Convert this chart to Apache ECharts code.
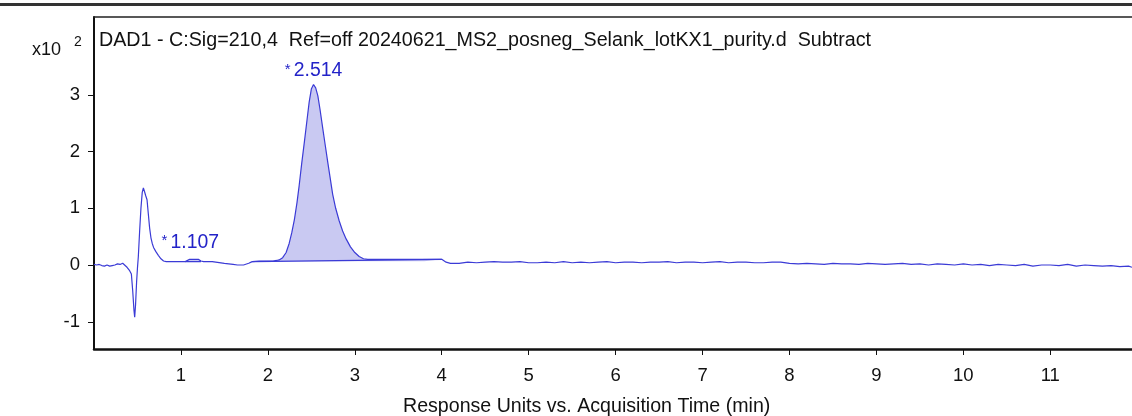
<!DOCTYPE html>
<html>
<head>
<meta charset="utf-8">
<script src="https://cdn.jsdelivr.net/npm/echarts@6/dist/echarts.min.js"></script>
<style>
  * { margin: 0; padding: 0; }
  body { background: #fff; }
</style>
</head>
<body>
<!-- chromatogram container -->
<div id="main" style="width:1132px;height:416px;"></div>
<script>
// signal trace: [time (min), response x10^2]
var trace = [
  [0.00, 0.01], [0.03, 0.00], [0.06, 0.01], [0.09, -0.01], [0.12, -0.02], [0.15, 0.00],
  [0.18, -0.02], [0.21, -0.01], [0.24, 0.00], [0.27, 0.02], [0.30, 0.01], [0.33, 0.03],
  [0.35, 0.01], [0.38, -0.04], [0.41, -0.10], [0.43, -0.16], [0.445, -0.45], [0.46, -0.80],
  [0.468, -0.92], [0.478, -0.70], [0.49, -0.30], [0.50, -0.05], [0.51, 0.15], [0.525, 0.60],
  [0.54, 1.00], [0.555, 1.28], [0.568, 1.36], [0.58, 1.30], [0.595, 1.22], [0.61, 1.15],
  [0.625, 0.90], [0.64, 0.65], [0.655, 0.48], [0.67, 0.38], [0.685, 0.31], [0.71, 0.24],
  [0.74, 0.17], [0.77, 0.11], [0.80, 0.07], [0.83, 0.06], [0.90, 0.06], [1.00, 0.06],
  [1.05, 0.06], [1.07, 0.09], [1.10, 0.10], [1.20, 0.10], [1.23, 0.07], [1.26, 0.06],
  [1.36, 0.06], [1.38, 0.03], [1.50, 0.03], [1.60, 0.01], [1.65, 0.00], [1.72, 0.00],
  [1.78, 0.03], [1.82, 0.06], [1.90, 0.07], [2.00, 0.07], [2.06, 0.07], [2.10, 0.08],
  [2.13, 0.09], [2.17, 0.13], [2.21, 0.22], [2.245, 0.38], [2.275, 0.57], [2.305, 0.80],
  [2.335, 1.10], [2.36, 1.40], [2.39, 1.80], [2.42, 2.17], [2.45, 2.55], [2.475, 2.87],
  [2.50, 3.10], [2.525, 3.18], [2.55, 3.12], [2.575, 2.98], [2.60, 2.74], [2.63, 2.42],
  [2.66, 2.11], [2.69, 1.80], [2.72, 1.50], [2.745, 1.25], [2.78, 1.00], [2.82, 0.78],
  [2.86, 0.60], [2.90, 0.46], [2.95, 0.32], [3.00, 0.22], [3.05, 0.15], [3.10, 0.11],
  [3.15, 0.10], [3.25, 0.10], [3.40, 0.10], [3.60, 0.10], [3.80, 0.10], [4.00, 0.10],
  [4.05, 0.05], [4.10, 0.03], [4.20, 0.03], [4.30, 0.05], [4.40, 0.04], [4.50, 0.05],
  [4.60, 0.06], [4.70, 0.05], [4.80, 0.05], [4.90, 0.06], [5.00, 0.04], [5.10, 0.04],
  [5.20, 0.05], [5.30, 0.04], [5.40, 0.06], [5.50, 0.04], [5.60, 0.05], [5.70, 0.04],
  [5.80, 0.05], [5.90, 0.06], [6.00, 0.04], [6.10, 0.05], [6.20, 0.05], [6.30, 0.04],
  [6.40, 0.05], [6.50, 0.05], [6.60, 0.06], [6.70, 0.04], [6.80, 0.05], [6.90, 0.05],
  [7.00, 0.04], [7.10, 0.05], [7.20, 0.06], [7.30, 0.04], [7.40, 0.05], [7.50, 0.05],
  [7.60, 0.04], [7.70, 0.04], [7.80, 0.05], [7.90, 0.05], [8.00, 0.03], [8.10, 0.02],
  [8.20, 0.03], [8.30, 0.02], [8.40, 0.01], [8.50, 0.03], [8.60, 0.02], [8.70, 0.02],
  [8.80, 0.01], [8.90, 0.03], [9.00, 0.02], [9.10, 0.01], [9.20, 0.02], [9.30, 0.03],
  [9.40, 0.01], [9.50, 0.02], [9.60, 0.00], [9.70, 0.02], [9.80, 0.01], [9.90, 0.00],
  [10.00, 0.02], [10.10, 0.00], [10.20, 0.01], [10.30, -0.01], [10.40, 0.01], [10.50, 0.00],
  [10.60, -0.01], [10.70, 0.01], [10.80, -0.02], [10.90, 0.00], [11.00, 0.00], [11.10, -0.01],
  [11.20, 0.01], [11.30, -0.02], [11.40, 0.00], [11.50, -0.01], [11.60, -0.02], [11.70, -0.01],
  [11.80, -0.03], [11.90, -0.02], [11.94, -0.04]
];

// integrated peaks: [start, end] times, baseline level, label, apex
var peakRanges = [[1.05, 1.23], [1.82, 4.00]];
var peakBase = [0.06, 0.065];
var peakLabels = ["1.107", "2.514"];
var peakApex = [[1.107, 0.10], [2.525, 3.18]];
// integration baselines
var baseLines = [
  [[1.05, 0.06], [1.23, 0.06]],
  [[1.82, 0.06], [4.00, 0.10]]
];

var xTicks = [1, 2, 3, 4, 5, 6, 7, 8, 9, 10, 11];
var yTicks = [-1, 0, 1, 2, 3];

var FONT = "Liberation Sans, Arial, sans-serif";
var LINE = "#3b3bd6";
var FILL = "#c9c9f2";
var LABEL = "#2323c8";

var chart = echarts.init(document.getElementById("main"));

var series = [];
// filled peak areas
peakRanges.forEach(function (r, i) {
  series.push({
    type: "line",
    data: trace.filter(function (p) { return p[0] >= r[0] && p[0] <= r[1]; }),
    symbol: "none",
    silent: true,
    z: 1,
    lineStyle: { width: 0 },
    areaStyle: { color: FILL, opacity: 1, origin: peakBase[i] }
  });
  series.push({
    type: "line",
    data: baseLines[i],
    symbol: "none",
    silent: true,
    z: 2,
    lineStyle: { width: 1.2, color: LINE }
  });
});
// main trace
series.push({
  type: "line",
  data: trace,
  symbol: "none",
  z: 3,
  lineStyle: { width: 1.2, color: LINE },
  markPoint: {
    symbol: "circle",
    symbolSize: 0,
    data: peakApex.map(function (p, i) {
      return {
        coord: p,
        label: {
          show: true,
          position: "top",
          distance: i == 0 ? 7 : 4,
          formatter: "{s|*} {n|" + peakLabels[i] + "}",
          rich: {
            s: { fontSize: 15, color: LABEL, fontFamily: FONT, padding: [0, 0, 3, 0] },
            n: { fontSize: 19.4, color: LABEL, fontFamily: FONT }
          }
        }
      };
    })
  }
});

chart.setOption({
  animation: false,
  title: {
    text: "DAD1 - C:Sig=210,4  Ref=off 20240621_MS2_posneg_Selank_lotKX1_purity.d  Subtract",
    left: 99,
    top: 31,
    padding: 0,
    textStyle: { fontFamily: FONT, fontSize: 19.7, fontWeight: "normal", color: "#111" }
  },
  grid: { left: 94, right: 0, top: 17, bottom: 67 },
  xAxis: [{
    type: "value",
    min: 0,
    max: 11.94,
    axisLine: { onZero: false, lineStyle: { color: "#111", width: 2.5 } },
    axisTick: { show: true, length: 6, lineStyle: { color: "#111" }, customValues: xTicks },
    axisLabel: { customValues: xTicks, margin: 17, fontFamily: FONT, fontSize: 18.5, color: "#111" },
    splitLine: { show: false }
  }, {
    type: "value",
    position: "top",
    min: 0,
    max: 11.94,
    axisLine: { show: true, onZero: false, lineStyle: { color: "#222", width: 1.5 } },
    axisTick: { show: false },
    axisLabel: { show: false },
    splitLine: { show: false }
  }],
  yAxis: {
    type: "value",
    min: -1.48,
    max: 4.37,
    axisLine: { show: true, onZero: false, lineStyle: { color: "#111", width: 2 } },
    axisTick: { show: true, length: 6, lineStyle: { color: "#111" }, customValues: yTicks },
    axisLabel: { customValues: yTicks, margin: 14, fontFamily: FONT, fontSize: 18.5, color: "#111" },
    splitLine: { show: false }
  },
  graphic: [
    { type: "rect", left: 0, top: 3, shape: { width: 1132, height: 3 }, style: { fill: "#333" } },
    { type: "text", left: 32, top: 41, style: { text: "x10", font: "18px " + FONT, fill: "#111" } },
    { type: "text", left: 74, top: 35, style: { text: "2", font: "14px " + FONT, fill: "#111" } },
    { type: "text", left: 403, top: 397, style: { text: "Response Units vs. Acquisition Time (min)", font: "19.6px " + FONT, fill: "#111" } }
  ],
  series: series
});
</script>
</body>
</html>
